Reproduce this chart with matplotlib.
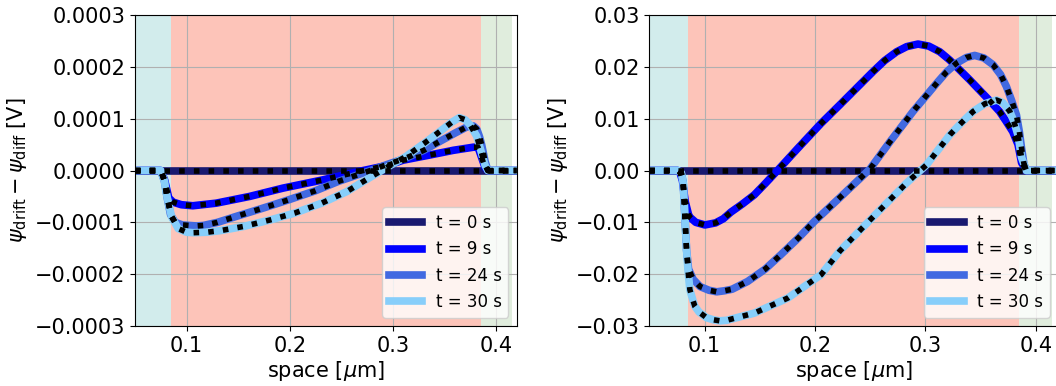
import numpy as np
import matplotlib
matplotlib.use("Agg")
import matplotlib.pyplot as plt

# ---- data ----
labels = ["t = 0 s", "t = 9 s", "t = 24 s", "t = 30 s"]
colors = ["midnightblue", "blue", "royalblue", "lightskyblue"]

# left panel (V)
x_l0 = [0.05, 0.42]
y_l0 = [0.0, 0.0]

x_l9 = [0.05, 0.075, 0.0787, 0.0828, 0.087, 0.095, 0.1061, 0.1287, 0.1611, 0.1934,
        0.2322, 0.2713, 0.295, 0.31, 0.336, 0.3586, 0.378, 0.3825, 0.386, 0.3893, 0.392, 0.42]
y_l9 = [0, 0, -0.18e-4, -0.53e-4, -0.61e-4, -0.66e-4, -0.68e-4, -0.63e-4, -0.50e-4, -0.34e-4,
        -0.18e-4, 0.0, 0.1e-4, 0.2e-4, 0.30e-4, 0.39e-4, 0.45e-4, 0.45e-4, 0.25e-4, 0.06e-4, 0, 0]

x_l24 = [0.05, 0.075, 0.0785, 0.0815, 0.0845, 0.089, 0.096, 0.1097, 0.1163, 0.13, 0.149, 0.175,
         0.1982, 0.225, 0.2471, 0.2797, 0.295, 0.3126, 0.33, 0.3453, 0.36, 0.3716, 0.378, 0.3813,
         0.384, 0.386, 0.3893, 0.392, 0.42]
y_l24 = [0, 0, -0.2e-4, -0.55e-4, -0.85e-4, -1.0e-4, -1.05e-4, -1.07e-4, -1.06e-4, -1.0e-4, -0.88e-4,
         -0.72e-4, -0.57e-4, -0.39e-4, -0.21e-4, 0.01e-4, 0.12e-4, 0.24e-4, 0.39e-4, 0.56e-4, 0.72e-4,
         0.84e-4, 0.86e-4, 0.80e-4, 0.65e-4, 0.50e-4, 0.18e-4, 0, 0]

x_l30 = [0.05, 0.075, 0.0785, 0.0805, 0.0822, 0.0855, 0.0919, 0.1, 0.1064, 0.12, 0.1327, 0.155,
         0.1818, 0.205, 0.2309, 0.255, 0.2797, 0.295, 0.3126, 0.33, 0.3453, 0.357, 0.3644, 0.37,
         0.3748, 0.3813, 0.386, 0.3893, 0.392, 0.42]
y_l30 = [0, 0, -0.2e-4, -0.45e-4, -0.6e-4, -0.89e-4, -1.12e-4, -1.19e-4, -1.2e-4, -1.19e-4, -1.16e-4,
         -1.08e-4, -0.95e-4, -0.82e-4, -0.63e-4, -0.41e-4, -0.11e-4, 0.07e-4, 0.27e-4, 0.52e-4,
         0.75e-4, 0.93e-4, 1.02e-4, 0.98e-4, 0.88e-4, 0.66e-4, 0.33e-4, 0.10e-4, 0, 0]

# right panel (V)
x_r0 = [0.05, 0.42]
y_r0 = [0.0, 0.0]

x_r9 = [0.05, 0.0758, 0.0775, 0.08, 0.0825, 0.0855, 0.0867, 0.092, 0.1003, 0.11, 0.117, 0.124,
        0.134, 0.145, 0.155, 0.166, 0.1845, 0.2055, 0.2226, 0.2526, 0.263, 0.2738, 0.283, 0.2933,
        0.303, 0.313, 0.322, 0.331, 0.34, 0.349, 0.358, 0.367, 0.373, 0.379, 0.3838, 0.387, 0.3914, 0.42]
y_r9 = [0, 0, -0.0002, -0.002, -0.006, -0.0085, -0.009, -0.010, -0.0105, -0.0101, -0.0093, -0.0080,
        -0.0065, -0.0047, -0.0025, 0.0, 0.0043, 0.0091, 0.0127, 0.0191, 0.0212, 0.0229, 0.0239, 0.0244,
        0.0240, 0.0229, 0.0213, 0.0194, 0.0175, 0.0155, 0.0135, 0.0114, 0.0095, 0.0075,
        0.005, 0.0015, 0, 0]

x_r24 = [0.05, 0.0758, 0.079, 0.0807, 0.0822, 0.0837, 0.0855, 0.0897, 0.096, 0.104, 0.111, 0.118,
         0.125, 0.139, 0.155, 0.1693, 0.185, 0.1995, 0.2226, 0.2498, 0.268, 0.2888, 0.31, 0.319,
         0.328, 0.337, 0.3446, 0.353, 0.3612, 0.368, 0.3733, 0.378, 0.3824, 0.385, 0.387, 0.389,
         0.391, 0.42]
y_r24 = [0, 0, -0.0005, -0.0024, -0.0089, -0.0153, -0.019, -0.021, -0.0224, -0.0231, -0.0234, -0.0232,
         -0.0229, -0.0214, -0.019, -0.0162, -0.013, -0.0098, -0.0052, 0.0003, 0.0056, 0.0114, 0.0168,
         0.0190, 0.0207, 0.0218, 0.0222, 0.0217, 0.0204, 0.0185, 0.0162, 0.0135, 0.0107, 0.0075,
         0.0043, 0.0015, 0, 0]

x_r30 = [0.05, 0.0758, 0.079, 0.0807, 0.0822, 0.0837, 0.0851, 0.0867, 0.0894, 0.0912, 0.095, 0.1018,
         0.108, 0.1139, 0.12, 0.1452, 0.1754, 0.2055, 0.2226, 0.2528, 0.2829, 0.301, 0.3221, 0.333,
         0.3432, 0.354, 0.3643, 0.370, 0.3764, 0.380, 0.3838, 0.387, 0.3914, 0.42]
y_r30 = [0, 0, -0.0005, -0.0024, -0.0089, -0.0153, -0.0195, -0.023, -0.025, -0.0262, -0.0273, -0.0284,
         -0.0288, -0.029, -0.0289, -0.0275, -0.0246, -0.0201, -0.0155, -0.0089, -0.0024, 0.0011, 0.0069,
         0.0093, 0.0114, 0.0129, 0.0136, 0.0131, 0.0114, 0.0095, 0.0068, 0.0025, 0, 0]

regions = [(0.05, 0.085, "#d2ecec"), (0.085, 0.385, "#fdc4b9"), (0.385, 0.415, "#e0eddd")]

left_data = [(x_l0, y_l0), (x_l9, y_l9), (x_l24, y_l24), (x_l30, y_l30)]
right_data = [(x_r0, y_r0), (x_r9, y_r9), (x_r24, y_r24), (x_r30, y_r30)]

fig = plt.figure(figsize=(10.56, 3.86), dpi=100)
ax1 = fig.add_axes([0.1278, 0.1554, 0.3615, 0.8057])
ax2 = fig.add_axes([0.6149, 0.1554, 0.387, 0.8057])


def draw(ax, data, ylim, yticks):
    for a, b, c in regions:
        ax.axvspan(a, b, color=c, lw=0, zorder=0)
    for (x, y), c, lab in zip(data, colors, labels):
        ax.plot(x, y, color=c, lw=5.5, label=lab, solid_joinstyle="round")
    for x, y in data:
        ax.plot(x, y, color="black", lw=4, linestyle=":")
    ax.set_xlim(0.05, 0.42)
    ax.set_ylim(*ylim)
    ax.set_xticks([0.1, 0.2, 0.3, 0.4])
    ax.set_yticks(yticks)
    ax.grid(True)
    ax.tick_params(labelsize=15)
    ax.set_xlabel(r"space [$\mu$m]", fontsize=15, labelpad=2)
    ax.set_ylabel(r"$\psi_{\rm drift} - \psi_{\rm diff}$ [V]", fontsize=15)
    ax.legend(loc="lower right", fontsize=12)


draw(ax1, left_data, (-0.0003, 0.0003), [-0.0003, -0.0002, -0.0001, 0, 0.0001, 0.0002, 0.0003])
draw(ax2, right_data, (-0.03, 0.03), [-0.03, -0.02, -0.01, 0, 0.01, 0.02, 0.03])

fig.savefig("out.png", dpi=100)
